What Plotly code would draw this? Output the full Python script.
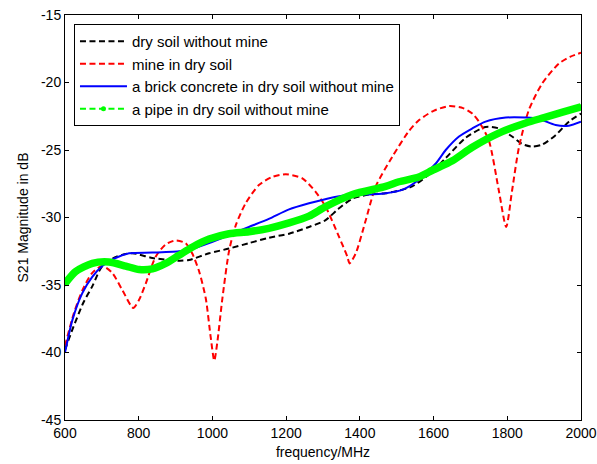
import plotly.graph_objects as go

# ---- data ----
f_black = [600, 620, 650, 674, 701, 740, 783, 837, 909, 936, 991, 1045, 1099, 1153, 1208, 1262,
           1307, 1340, 1380, 1425, 1470, 1506, 1542, 1588, 1633, 1687, 1741, 1777, 1813, 1840,
           1868, 1895, 1931, 1967, 2000]
s_black = [-39.8, -38.3, -36.3, -35.1, -33.6, -32.9, -32.65, -33.0, -33.2, -33.15, -32.65, -32.3,
           -31.9, -31.5, -31.2, -30.7, -30.2, -29.4, -28.6, -28.3, -28.2, -28.0, -27.7, -26.8,
           -25.6, -24.1, -23.3, -23.4, -24.0, -24.55, -24.75, -24.6, -23.9, -22.9, -22.3]

f_red = [600, 624, 647, 674, 701, 728, 756, 785, 801, 819, 846, 873, 900, 927, 945, 964, 982,
         995, 1005, 1013, 1027, 1045, 1063, 1090, 1126, 1162, 1199, 1244, 1280, 1307, 1343, 1366,
         1372, 1389, 1416, 1443, 1488, 1533, 1560, 1600, 1642, 1680, 1705, 1723, 1750, 1777,
         1797, 1813, 1832, 1859, 1895, 1940, 1970, 2000]
s_red = [-39.5, -37.1, -35.4, -34.1, -33.6, -34.1, -35.4, -36.7, -36.1, -34.9, -32.9, -32.0,
         -31.7, -31.9, -32.65, -34.0, -36.0, -38.8, -40.6, -39.3, -36.0, -32.5, -30.6, -28.95,
         -27.6, -27.0, -26.8, -27.1, -28.1, -29.2, -31.4, -32.9, -33.4, -32.65, -30.2, -27.7,
         -25.5, -23.6, -22.8, -22.1, -21.75, -21.9, -22.3, -22.9, -24.3, -28.0, -30.7, -28.0,
         -24.75, -22.0, -20.06, -18.6, -18.1, -17.8]

f_blue = [600, 620, 647, 674, 701, 737, 774, 837, 909, 936, 991, 1045, 1099, 1153, 1208, 1262,
          1298, 1340, 1380, 1425, 1470, 1515, 1560, 1606, 1633, 1669, 1705, 1741, 1796, 1850,
          1886, 1931, 1967, 2000]
s_blue = [-40.0, -37.6, -35.6, -34.4, -33.6, -33.0, -32.65, -32.6, -32.5, -32.4, -31.9, -31.3,
          -30.7, -30.1, -29.4, -28.95, -28.7, -28.45, -28.3, -28.3, -28.2, -27.95, -27.2, -26.0,
          -25.0, -24.0, -23.4, -22.9, -22.6, -22.6, -22.7, -23.15, -23.2, -22.9]

f_green = [600, 629, 674, 719, 765, 801, 837, 873, 909, 945, 991, 1045, 1099, 1153, 1208, 1262,
           1307, 1380, 1470, 1506, 1560, 1597, 1651, 1705, 1777, 1850, 1900, 1950, 2000]
s_green = [-34.9, -34.0, -33.4, -33.3, -33.6, -33.85, -33.8, -33.4, -32.8, -32.2, -31.6, -31.2,
           -31.05, -30.8, -30.4, -29.9, -29.2, -28.3, -27.7, -27.35, -27.0, -26.5, -25.8, -24.8,
           -23.75, -23.0, -22.6, -22.2, -21.8]

names = ["dry soil without mine", "mine in dry soil",
         "a brick concrete in dry soil without mine", "a pipe in dry soil without mine"]

x_ticks = [600, 800, 1000, 1200, 1400, 1600, 1800, 2000]
y_ticks = [-45, -40, -35, -30, -25, -20, -15]

FONT = "Arial, Liberation Sans, sans-serif"
DASH = "6px,3.5px"

fig = go.Figure()
fig.add_trace(go.Scatter(x=f_black, y=s_black, name=names[0], mode="lines",
                         line=dict(color="#000000", width=2, dash=DASH, shape="spline", smoothing=0.7)))
fig.add_trace(go.Scatter(x=f_red, y=s_red, name=names[1], mode="lines",
                         line=dict(color="#ff0000", width=2, dash=DASH, shape="spline", smoothing=0.7)))
fig.add_trace(go.Scatter(x=f_blue, y=s_blue, name=names[2], mode="lines",
                         line=dict(color="#0000ff", width=2, shape="spline", smoothing=0.7)))
# legend entry for the pipe curve (dashed line with dot marker), hidden under the thick line
fig.add_trace(go.Scatter(x=f_green, y=s_green, name=names[3], mode="lines+markers",
                         line=dict(color="#00ff00", width=2, dash=DASH, shape="spline", smoothing=0.7),
                         marker=dict(color="#00ff00", size=5)))
fig.add_trace(go.Scatter(x=f_green, y=s_green, name=names[3], mode="lines", showlegend=False,
                         line=dict(color="#00ff00", width=7.5, shape="spline", smoothing=0.7)))

axis_common = dict(showgrid=False, zeroline=False, showline=True, linecolor="#000000",
                   linewidth=1, mirror="ticks", ticks="inside", ticklen=4, tickcolor="#000000",
                   automargin=False, ticklabeloverflow="allow",
                   tickfont=dict(family=FONT, size=14, color="#000000"))

fig.update_layout(
    width=597, height=464,
    margin=dict(l=65, r=16, t=15, b=44),
    paper_bgcolor="white", plot_bgcolor="white",
    font=dict(family=FONT, size=14, color="#000000"),
    xaxis=dict(range=[600, 2000], tickvals=x_ticks, ticktext=[str(v) for v in x_ticks],
               title=dict(text="frequency/MHz", standoff=7, font=dict(family=FONT, size=14)),
               **axis_common),
    yaxis=dict(range=[-45, -15], tickvals=y_ticks, ticktext=[str(v) for v in y_ticks],
               title=dict(text="S21 Magnitude in dB", standoff=9, font=dict(family=FONT, size=14)),
               **axis_common),
    legend=dict(x=0.0174, y=0.978, xanchor="left", yanchor="top",
                bgcolor="white", bordercolor="#000000", borderwidth=1,
                font=dict(family=FONT, size=15, color="#000000"),
                itemwidth=47, tracegroupgap=0),
    showlegend=True,
)

# remove the default 8px page margin so the 597x464 figure fills the window exactly
fig.write_html("out.html", config={"displayModeBar": False},
               post_script="document.body.style.margin='0';document.body.style.overflow='hidden';")
